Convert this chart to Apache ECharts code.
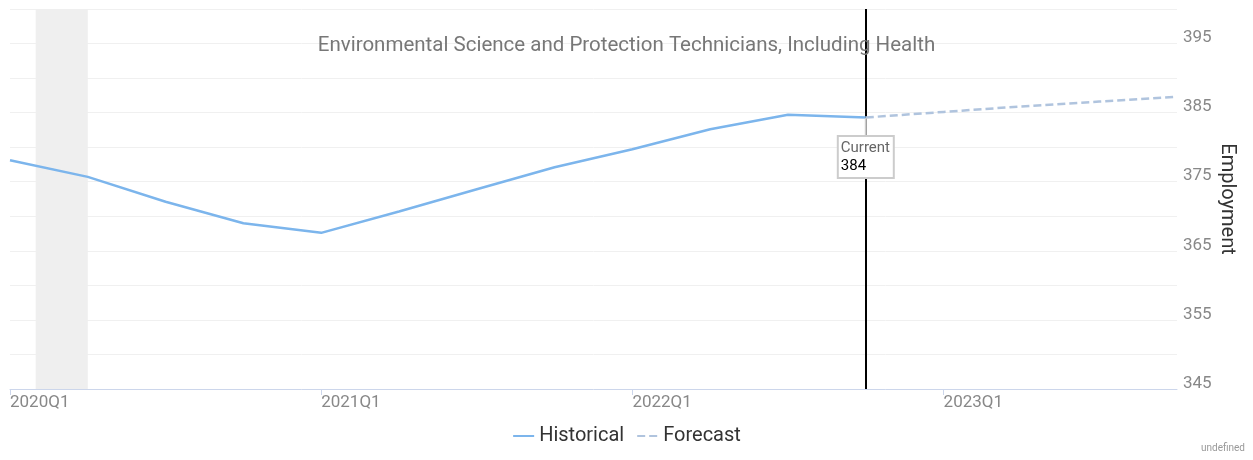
<!DOCTYPE html>
<html>
<head>
<meta charset="utf-8">
<script src="https://cdn.jsdelivr.net/npm/echarts@6/dist/echarts.min.js"></script>
<style>
  html, body { margin: 0; padding: 0; background: #fff; }
  #chart { width: 1253px; height: 460px; }
</style>
</head>
<body>
<div id="chart"></div>
<script>
const chartTitle = 'Environmental Science and Protection Technicians, Including Health';
const categories = ['2020Q1','2020Q2','2020Q3','2020Q4','2021Q1','2021Q2','2021Q3','2021Q4',
                    '2022Q1','2022Q2','2022Q3','2022Q4','2023Q1','2023Q2','2023Q3','2023Q4'];
const historical = [378.1, 375.7, 372.1, 369.0, 367.6, 370.7, 373.9, 377.1, 379.7, 382.6, 384.7, 384.3];
const forecast = [384.3, 385.1, 385.9, 386.6, 387.3];
const currentIndex = 11;
const recession = [0.33, 1];
const xTickValues = [0, 4, 8, 12];
const yTickLabels = [345, 355, 365, 375, 385, 395];

const histData = historical.map((v, i) => [i, v]);
const fcData = forecast.map((v, i) => [currentIndex + i, v]);

const chart = echarts.init(document.getElementById('chart'));
const font = 'Roboto, "Noto Sans", sans-serif';
chart.setOption({
  animation: false,
  textStyle: { fontFamily: font },
  title: [
    { text: chartTitle, left: 'center', top: 30,
      textStyle: { fontFamily: font, fontSize: 20.5, fontWeight: 'normal', color: '#777' } },
    { text: 'undefined', right: 3, bottom: 2,
      textStyle: { fontFamily: font, fontSize: 10, fontWeight: 'normal', color: '#999' } }
  ],
  legend: {
    top: 421, left: 'center',
    itemWidth: 21, itemHeight: 14, itemGap: 12,
    itemStyle: { opacity: 0 },
    textStyle: { fontFamily: font, fontSize: 20, color: '#333' },
    data: ['Historical', 'Forecast']
  },
  grid: { left: 10, right: 76, top: 9, bottom: 71, containLabel: false },
  xAxis: {
    type: 'value', min: 0, max: categories.length - 1, interval: 4,
    axisLine: { show: true, lineStyle: { color: '#ccd6eb', width: 1 } },
    axisTick: { show: true, length: 6, lineStyle: { color: '#ccd6eb' }, customValues: xTickValues },
    axisLabel: {
      customValues: xTickValues, align: 'left', margin: 5,
      fontSize: 17, color: '#888', fontFamily: font,
      formatter: v => categories[v] || ''
    },
    splitLine: { show: false }
  },
  yAxis: {
    type: 'value', position: 'right', min: 345, max: 400, interval: 5,
    name: 'Employment', nameLocation: 'middle', nameRotate: -90, nameGap: 40,
    nameMoveOverlap: false,
    nameTextStyle: { fontFamily: font, fontSize: 20, color: '#333' },
    axisLine: { show: false }, axisTick: { show: false },
    axisLabel: {
      customValues: yTickLabels, margin: 6, fontSize: 17, color: '#888',
      fontFamily: font, verticalAlign: 'bottom', lineHeight: 11
    },
    splitLine: { show: true, lineStyle: { color: '#f0f0f0', width: 1 } }
  },
  series: [
    {
      name: 'Historical', type: 'line', data: histData,
      symbol: 'none', z: 3,
      lineStyle: { color: '#7cb5ec', width: 2.5 },
      itemStyle: { color: '#7cb5ec' },
      emphasis: { disabled: true },
      markArea: {
        silent: true,
        itemStyle: { color: '#efefef' },
        data: [[{ xAxis: recession[0] }, { xAxis: recession[1] }]]
      },
      markLine: {
        silent: true, symbol: 'none', z: 2,
        lineStyle: { color: '#000', width: 2, type: 'solid' },
        label: { show: false },
        data: [{ xAxis: currentIndex }]
      },
      markPoint: {
        silent: true, z: 10,
        symbol: 'rect', symbolSize: [2, 19], symbolOffset: [0, 10],
        itemStyle: { color: '#ccc' },
        label: {
          show: true, position: 'bottom', distance: 0,
          backgroundColor: '#fff', borderColor: '#ccc', borderWidth: 2,
          padding: [2, 1, 2, 2],
          formatter: p => '{a|Current}\n{b|' + Math.round(p.value) + '}',
          rich: {
            a: { fontFamily: font, fontSize: 15, color: '#666', width: 51, align: 'left', lineHeight: 18 },
            b: { fontFamily: font, fontSize: 15, color: '#000', width: 51, align: 'left', lineHeight: 18 }
          }
        },
        data: [{ coord: [currentIndex, historical[currentIndex]], value: historical[currentIndex] }]
      }
    },
    {
      name: 'Forecast', type: 'line', data: fcData,
      symbol: 'none', z: 3,
      lineStyle: { color: '#b0c4de', width: 2.5, type: [8, 4] },
      itemStyle: { color: '#b0c4de' },
      emphasis: { disabled: true }
    }
  ]
});
</script>
</body>
</html>
